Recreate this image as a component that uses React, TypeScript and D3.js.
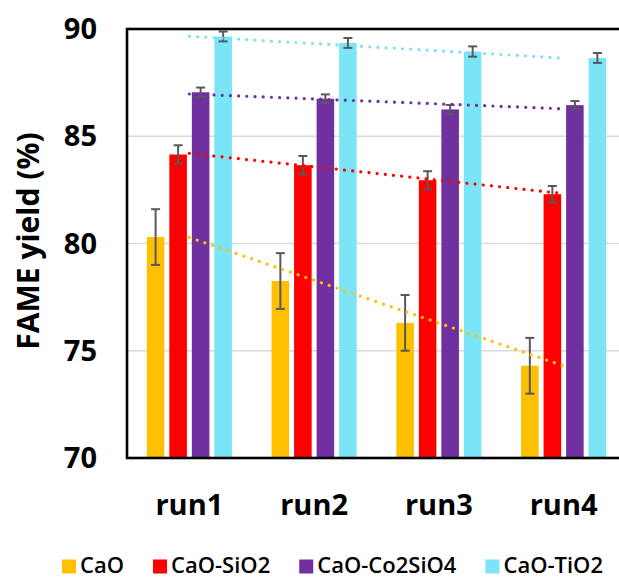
import React, { useEffect, useRef } from "react";
import * as d3 from "d3";

const runs = ["run1", "run2", "run3", "run4"];
const seriesNames = ["CaO", "CaO-SiO2", "CaO-Co2SiO4", "CaO-TiO2"];
const seriesColors = ["#FFC000", "#FF0000", "#7030A0", "#7BE5F8"];
const trendColors = ["#FFC000", "#FF0000", "#7030A0", "#78E2F5"];

const caoValues = [80.3, 78.25, 76.3, 74.3];
const caoSiO2Values = [84.15, 83.65, 82.95, 82.3];
const caoCo2SiO4Values = [87.05, 86.75, 86.25, 86.45];
const caoTiO2Values = [89.65, 89.35, 88.95, 88.65];

const caoErrors = [1.3, 1.3, 1.3, 1.3];
const caoSiO2Errors = [0.43, 0.43, 0.42, 0.38];
const caoCo2SiO4Errors = [0.22, 0.2, 0.21, 0.19];
const caoTiO2Errors = [0.23, 0.23, 0.24, 0.23];

const yTicks = [70, 75, 80, 85, 90];
const yTitle = "FAME yield (%)";

const W = 619;
const H = 579;

export default function App() {
  const ref = useRef<SVGSVGElement | null>(null);

  useEffect(() => {
    const svg = d3.select(ref.current);
    svg.selectAll("*").remove();

    const values = [caoValues, caoSiO2Values, caoCo2SiO4Values, caoTiO2Values];
    const errors = [caoErrors, caoSiO2Errors, caoCo2SiO4Errors, caoTiO2Errors];

    const plot = { left: 127, right: 626, top: 29, bottom: 458 };
    const font = "'Open Sans', sans-serif";

    const x = d3.scaleBand<string>().domain(runs).range([plot.left, plot.right]);
    const xi = d3
      .scaleBand<string>()
      .domain(seriesNames)
      .range([0, x.bandwidth()])
      .paddingInner(0.22)
      .paddingOuter(0.88);
    const y = d3.scaleLinear().domain([70, 90]).range([plot.bottom, plot.top]);

    // gridlines
    svg
      .append("g")
      .selectAll("line")
      .data(yTicks.filter((t) => t > 70 && t < 90))
      .join("line")
      .attr("x1", plot.left)
      .attr("x2", plot.right)
      .attr("y1", (d) => y(d))
      .attr("y2", (d) => y(d))
      .attr("stroke", "#D9D9D9")
      .attr("stroke-width", 1.6);

    // bars
    const bars = svg.append("g");
    seriesNames.forEach((name, si) => {
      bars
        .append("g")
        .selectAll("rect")
        .data(values[si].map((v, i) => ({ run: runs[i], v })))
        .join("rect")
        .attr("x", (d) => (x(d.run) as number) + (xi(name) as number))
        .attr("width", xi.bandwidth())
        .attr("y", (d) => y(d.v))
        .attr("height", (d) => y(70) - y(d.v))
        .attr("fill", seriesColors[si]);
    });

    // error bars
    const eb = svg.append("g").attr("stroke", "#595959").attr("stroke-width", 2);
    seriesNames.forEach((name, si) => {
      values[si].forEach((v, i) => {
        const cx = (x(runs[i]) as number) + (xi(name) as number) + xi.bandwidth() / 2;
        const e = errors[si][i];
        const g = eb.append("g");
        g.append("line").attr("x1", cx).attr("x2", cx).attr("y1", y(v + e)).attr("y2", y(v - e));
        g.append("line").attr("x1", cx - 4.5).attr("x2", cx + 4.5).attr("y1", y(v + e)).attr("y2", y(v + e));
        g.append("line").attr("x1", cx - 4.5).attr("x2", cx + 4.5).attr("y1", y(v - e)).attr("y2", y(v - e));
      });
    });

    // linear trendlines (least squares over run index)
    const trend = svg.append("g");
    values.forEach((vals, si) => {
      const idx = vals.map((_, i) => i);
      const mx = d3.mean(idx) as number;
      const my = d3.mean(vals) as number;
      const slope =
        d3.sum(idx.map((i) => (i - mx) * (vals[i] - my))) / d3.sum(idx.map((i) => (i - mx) ** 2));
      const fit = (i: number) => my + slope * (i - mx);
      const pts: [number, number][] = [0, vals.length - 1].map((i) => [
        (x(runs[i]) as number) + x.bandwidth() / 2,
        y(fit(i)),
      ]);
      trend
        .append("path")
        .attr("d", d3.line()(pts))
        .attr("fill", "none")
        .attr("stroke", trendColors[si])
        .attr("stroke-width", 3.2)
        .attr("stroke-linecap", "round")
        .attr("stroke-dasharray", "0.01 8.2");
    });

    // plot frame
    svg
      .append("rect")
      .attr("x", plot.left)
      .attr("y", plot.top)
      .attr("width", plot.right - plot.left)
      .attr("height", plot.bottom - plot.top)
      .attr("fill", "none")
      .attr("stroke", "#000")
      .attr("stroke-width", 2.6);

    // y tick labels
    svg
      .append("g")
      .selectAll("text")
      .data(yTicks)
      .join("text")
      .attr("x", 97)
      .attr("y", (d) => y(d) + 10)
      .attr("text-anchor", "end")
      .attr("font-family", font)
      .attr("font-weight", 700)
      .attr("font-size", 29)
      .attr("fill", "#000")
      .text((d) => d);

    // x labels
    svg
      .append("g")
      .selectAll("text")
      .data(runs)
      .join("text")
      .attr("x", (d) => (x(d) as number) + x.bandwidth() / 2)
      .attr("y", 515)
      .attr("text-anchor", "middle")
      .attr("font-family", font)
      .attr("font-weight", 700)
      .attr("font-size", 29)
      .attr("fill", "#000")
      .text((d) => d);

    // y title
    svg
      .append("text")
      .attr("transform", `translate(39, 241) rotate(-90)`)
      .attr("text-anchor", "middle")
      .attr("font-family", font)
      .attr("font-weight", 700)
      .attr("font-size", 30)
      .attr("fill", "#000")
      .text(yTitle);

    // legend
    const leg = svg.append("g");
    const items = seriesNames.map((name, si) => {
      const g = leg.append("g");
      g.append("rect").attr("width", 14).attr("height", 14).attr("y", 559.5).attr("fill", seriesColors[si]);
      const t = g
        .append("text")
        .attr("x", 18)
        .attr("y", 572.5)
        .attr("font-family", font)
        .attr("font-weight", 600)
        .attr("font-size", 22)
        .attr("fill", "#000")
        .text(name);
      const w = 18 + (t.node() as SVGTextElement).getComputedTextLength();
      return { g, w };
    });
    const gap = 29;
    const total = d3.sum(items, (d) => d.w) + gap * (items.length - 1);
    let cx = 332.5 - total / 2;
    items.forEach((it) => {
      it.g.attr("transform", `translate(${cx},0)`);
      cx += it.w + gap;
    });
  }, []);

  return (
    <svg
      ref={ref}
      width={W}
      height={H}
      style={{ position: "absolute", left: 0, top: 0, display: "block", background: "#fff" }}
    />
  );
}
